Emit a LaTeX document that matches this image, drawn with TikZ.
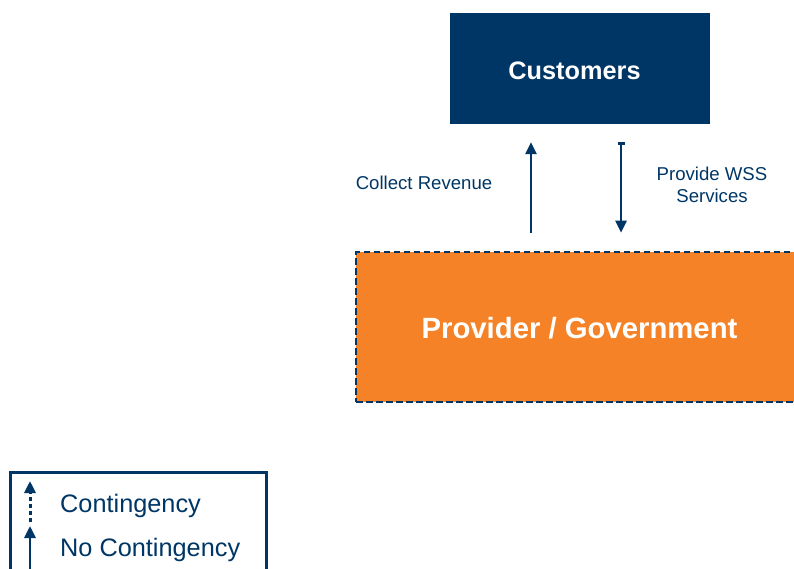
\documentclass[tikz,border=0pt]{standalone}
\usepackage{fontspec}
\setmainfont{Liberation Sans}
\usetikzlibrary{arrows.meta}
\definecolor{navy}{RGB}{0,54,101}
\definecolor{orng}{RGB}{245,130,38}
\tikzset{
  arr/.style={draw=navy, line width=2.6pt, -{Triangle[width=11pt,length=12pt]}},
  lbl/.style={text=navy, font=\fontsize{18.6}{22.5}\selectfont, align=center, inner sep=0pt},
  legtxt/.style={text=navy, font=\fontsize{25.3}{28}\selectfont, anchor=west, inner sep=0pt},
}
\begin{document}
\begin{tikzpicture}[x=1pt,y=-1pt]
\useasboundingbox (0,0) rectangle (794,569);
\clip (0,0) rectangle (794,569);
% boxes
\node[fill=navy, minimum width=260pt, minimum height=111pt, inner sep=0pt] (cust) at (580,68.5) {};
\node[text=white, font=\bfseries\fontsize{25.3}{28}\selectfont, inner sep=0pt] (custt) at (574.5,71) {Customers};
\node[fill=orng, draw=navy, line width=2.6pt, dash pattern=on 6.5pt off 3.5pt, minimum width=447pt, minimum height=150pt, inner sep=0pt] (prov) at (579.5,327) {};
\node[text=white, font=\bfseries\fontsize{29.3}{32}\selectfont, inner sep=0pt] (provt) at (579.5,328) {Provider / Government};
% arrows
\coordinate (c1) at (531,0);
\coordinate (c2) at (621,0);
\draw[arr, shorten <=18pt, shorten >=18pt] (c1 |- prov.north) -- (c1 |- cust.south);
\draw[draw=navy, line width=2.6pt, {Bar[width=7pt,length=1.5pt]}-{Triangle[width=11pt,length=12pt]}, shorten <=18pt, shorten >=18pt] (c2 |- cust.south) -- (c2 |- prov.north);
\node[lbl] (l1) at (424,183) {Collect Revenue};
\node[lbl] (l2) at (712,185) {Provide WSS\\Services};
% legend
\node[draw=navy, line width=3pt, minimum width=256pt, minimum height=120pt, inner sep=0pt] (leg) at (138,532) {};
\coordinate (d1) at (30,522);
\coordinate (d2) at (30,481);
\coordinate (s1) at (30,572);
\coordinate (s2) at (30,526);
\draw[draw=navy, line width=3pt, dash pattern=on 4pt off 3pt, -{Triangle[width=11pt,length=12pt]}] (d1) -- (d2);
\draw[arr, line width=2.8pt] (s1) -- (s2);
\node[legtxt] (lt1) at (60,506) {Contingency};
\node[legtxt] (lt2) at (60,550) {No Contingency};
\end{tikzpicture}
\end{document}
